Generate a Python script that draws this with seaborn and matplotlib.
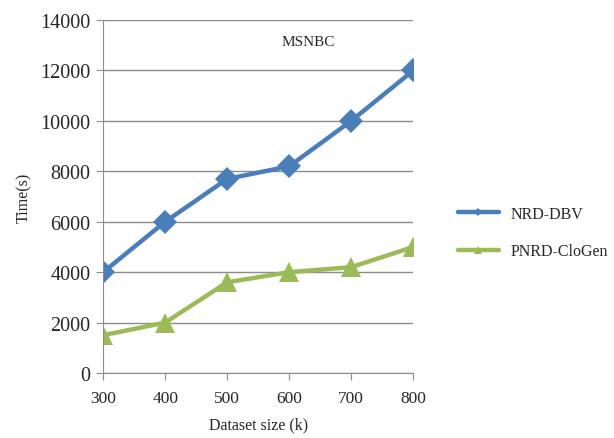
import matplotlib
matplotlib.use("Agg")
import matplotlib.pyplot as plt
import seaborn as sns
import pandas as pd

# Dati
dataset_size = [300, 400, 500, 600, 700, 800]
nrd_dbv = [4000, 6000, 7700, 8200, 10000, 12000]
pnrd_clogen = [1500, 2000, 3600, 4000, 4200, 5000]
y_ticks = [0, 2000, 4000, 6000, 8000, 10000, 12000, 14000]

df = pd.DataFrame({
    "size": dataset_size * 2,
    "time": nrd_dbv + pnrd_clogen,
    "method": ["NRD-DBV"] * 6 + ["PNRD-CloGen"] * 6,
})

sns.set_style("white")
plt.rcParams["font.family"] = ["Liberation Serif", "DejaVu Serif"]

fig = plt.figure(figsize=(6.14, 4.39), dpi=100)
ax = fig.add_axes([0.168, 0.148, 0.505, 0.804])

palette = {"NRD-DBV": "#4a7ebb", "PNRD-CloGen": "#9bbb59"}
markers = {"NRD-DBV": "D", "PNRD-CloGen": "^"}
sizes = {"NRD-DBV": 12, "PNRD-CloGen": 15}

for name, g in df.groupby("method"):
    sns.lineplot(data=g, x="size", y="time", ax=ax, color=palette[name],
                 marker=markers[name], markersize=sizes[name], linewidth=3.2,
                 markeredgewidth=0, label=name, legend=False)

ax.set_xlim(300, 800)
ax.set_ylim(0, 14000)
ax.set_xticks(dataset_size)
ax.set_yticks(y_ticks)
ax.yaxis.grid(True, color="#8c8c8c", linewidth=1.0)
ax.set_axisbelow(True)
for s in ["top", "right"]:
    ax.spines[s].set_visible(False)
ax.spines["left"].set_color("#8c8c8c")
ax.spines["bottom"].set_color("#8c8c8c")
ax.tick_params(axis="both", which="major", direction="out", length=5,
               color="#8c8c8c", left=True, bottom=True)
ax.tick_params(axis="y", labelsize=14.5, pad=4)
ax.tick_params(axis="x", labelsize=12.5, pad=7)

ax.set_xlabel("Dataset size (k)", fontsize=11.5, labelpad=8)
ax.set_ylabel("Time(s)", fontsize=11.5, labelpad=6)
ax.text(0.66, 0.94, "MSNBC", transform=ax.transAxes, fontsize=11,
        ha="center", va="center")

handles, labels = ax.get_legend_handles_labels()
leg = fig.legend(handles, labels, loc="center left", bbox_to_anchor=(0.735, 0.468),
                 frameon=False, fontsize=11.5, handlelength=2.6, handletextpad=0.7,
                 labelspacing=1.35, markerscale=0.35, borderaxespad=0)

fig.savefig("out.png", dpi=100)
